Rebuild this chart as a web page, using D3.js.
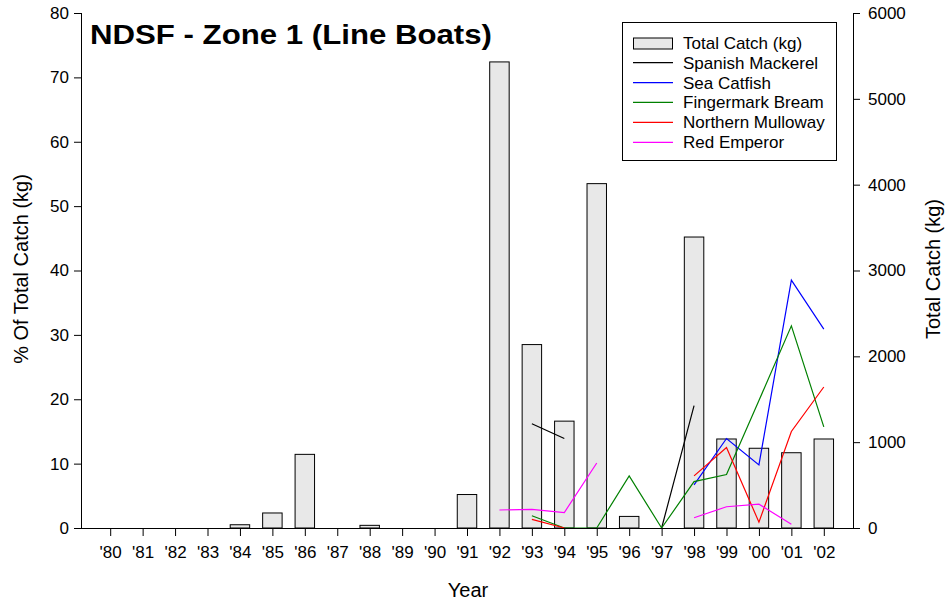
<!DOCTYPE html>
<html><head><meta charset="utf-8">
<script src="https://cdn.jsdelivr.net/npm/d3@7"></script>
<style>
body{margin:0;background:#fff;}
svg{display:block;font-family:"Liberation Sans",Arial,sans-serif;}
</style></head>
<body>
<svg id="c" width="947" height="604"></svg>
<script>
const years = ["'80","'81","'82","'83","'84","'85","'86","'87","'88","'89","'90","'91","'92","'93","'94","'95","'96","'97","'98","'99","'00","'01","'02"];
const totalCatch = [0,0,0,0,38,175,858,0,31,0,0,390,5430,2137,1245,4012,135,0,3390,1037,929,877,1037];
const spanishMackerel = [null,null,null,null,null,null,null,null,null,null,null,null,null,16.2,13.9,null,null,0,19.0,null,null,null,null];
const seaCatfish = [null,null,null,null,null,null,null,null,null,null,null,null,null,null,null,null,null,null,6.7,13.9,9.8,38.5,30.9];
const fingermarkBream = [null,null,null,null,null,null,null,null,null,null,null,null,null,1.9,0,0,8.1,0,7.2,8.3,19.8,31.4,15.7];
const northernMulloway = [null,null,null,null,null,null,null,null,null,null,null,null,null,1.35,0,null,null,null,8.1,12.5,0.9,15.0,21.9];
const redEmperor = [null,null,null,null,null,null,null,null,null,null,null,null,2.8,2.9,2.4,10.1,null,null,1.6,3.3,3.7,0.6,null];
const leftTicks = [0,10,20,30,40,50,60,70,80];
const rightTicks = [0,1000,2000,3000,4000,5000,6000];
const seriesNames = ["Spanish Mackerel","Sea Catfish","Fingermark Bream","Northern Mulloway","Red Emperor"];
const seriesColors = ["#000000","#0000ff","#008000","#ff0000","#ff00ff"];
const seriesData = [spanishMackerel,seaCatfish,fingermarkBream,northernMulloway,redEmperor];

const svg = d3.select("#c");
const L=81, R=853, T=13, B=528;
const x = d3.scalePoint().domain(years).range([L,R]).padding(0.9);
const yL = d3.scaleLinear().domain([0,80]).range([B,T]);
const yR = d3.scaleLinear().domain([0,6000]).range([B,T]);
const bw = x.step()*0.6;

// bars
svg.append("g").selectAll("rect").data(years).join("rect")
  .attr("x",(d)=>x(d)-bw/2)
  .attr("y",(d,i)=>yR(totalCatch[i]))
  .attr("width",bw)
  .attr("height",(d,i)=>B-yR(totalCatch[i]))
  .attr("fill","#e8e8e8").attr("stroke","#000").attr("stroke-width",1)
  .attr("display",(d,i)=>totalCatch[i]>0?null:"none");

// lines
const line = d3.line().defined(d=>d.v!==null).x(d=>x(d.y)).y(d=>yL(d.v));
seriesData.forEach((s,k)=>{
  svg.append("path").datum(years.map((y,i)=>({y:y,v:s[i]})))
    .attr("d",line).attr("fill","none").attr("stroke",seriesColors[k]).attr("stroke-width",1.2);
});

// axes
const fs = "17px";
const ax = svg.append("g").attr("transform",`translate(${L},0)`).call(d3.axisLeft(yL).tickValues(leftTicks).tickSize(7).tickPadding(5));
const axR = svg.append("g").attr("transform",`translate(${R},0)`).call(d3.axisRight(yR).tickValues(rightTicks).tickFormat(d3.format("d")).tickSize(7).tickPadding(8));
const axB = svg.append("g").attr("transform",`translate(0,${B})`).call(d3.axisBottom(x).tickSize(8).tickPadding(10));
[ax,axR,axB].forEach(g=>{
  g.selectAll("text").attr("font-size",fs).attr("font-family","'Liberation Sans',Arial,sans-serif").attr("fill","#000");
  g.selectAll("line").attr("stroke","#000");
  g.select(".domain").attr("stroke","#000");
});
axB.select(".domain").attr("d",`M${L},0.5H${R}`);
ax.select(".domain").attr("d",`M0.5,${B}V${T}`);
axR.select(".domain").attr("d",`M0.5,${B}V${T}`);

// titles
svg.append("text").attr("x",90).attr("y",44).attr("font-size","27px").attr("font-weight","bold")
  .attr("textLength",402).attr("lengthAdjust","spacingAndGlyphs").text("NDSF - Zone 1 (Line Boats)");
svg.append("text").attr("x",(L+R)/2+1).attr("y",597).attr("text-anchor","middle").attr("font-size","20px").text("Year");
svg.append("text").attr("transform",`translate(28,${269}) rotate(-90)`).attr("text-anchor","middle").attr("font-size","20px").text("% Of Total Catch (kg)");
svg.append("text").attr("transform",`translate(940,${269}) rotate(-90)`).attr("text-anchor","middle").attr("font-size","20px").text("Total Catch (kg)");

// legend
const lg = svg.append("g");
lg.append("rect").attr("x",622.5).attr("y",22.5).attr("width",214).attr("height",138).attr("fill","#fff").attr("stroke","#000");
const rowsY = [43.5,62.7,82.7,102.3,122.3,142.3];
lg.append("rect").attr("x",633.5).attr("y",rowsY[0]-5.5).attr("width",39).attr("height",11).attr("fill","#e8e8e8").attr("stroke","#000");
lg.append("text").attr("x",683).attr("y",rowsY[0]+5.5).attr("font-size",fs).text("Total Catch (kg)");
seriesNames.forEach((n,k)=>{
  const yy = rowsY[k+1];
  lg.append("line").attr("x1",633).attr("x2",673).attr("y1",yy).attr("y2",yy).attr("stroke",seriesColors[k]).attr("stroke-width",1.2);
  lg.append("text").attr("x",683).attr("y",yy+6).attr("font-size",fs).text(n);
});
</script>
</body></html>
